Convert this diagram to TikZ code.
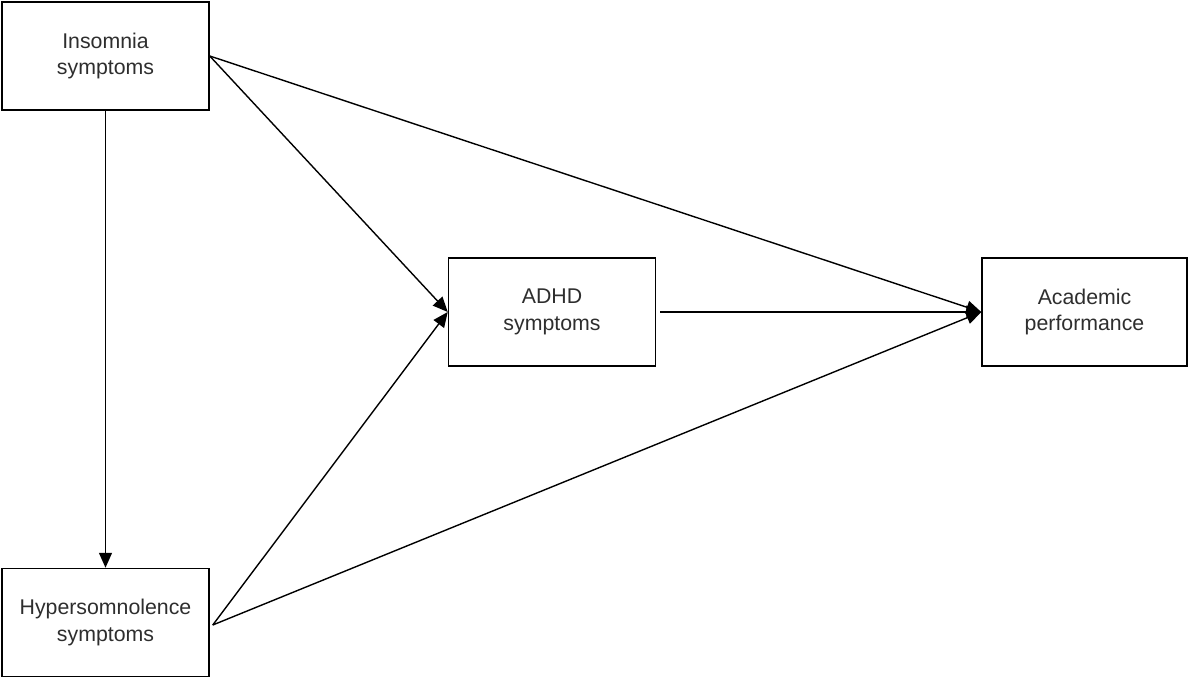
\documentclass[tikz,border=0pt]{standalone}
\usepackage{fontspec}
\setmainfont{Liberation Sans}
\usetikzlibrary{arrows.meta}
\begin{document}
\begin{tikzpicture}[x=1pt,y=-1pt,
  box/.style={draw=black,line width=1.5pt,fill=white,inner sep=0pt,
    minimum width=207pt,minimum height=108pt,align=center,
    font=\fontsize{21.3}{26.5}\selectfont,text=black!82},
  conn/.style={draw=black,line width=1.4pt,
    -{Triangle[length=15pt,width=13pt]}}]
\useasboundingbox (0,0) rectangle (1188,677);
\node[box] (ins) at (105.5,56) {Insomnia\\symptoms};
\node[box] (hyp) at (105.5,622.5) {Hypersomnolence\\symptoms};
\node[box] (adhd) at (552,312) {ADHD\\symptoms};
\node[box,minimum width=205pt] (acad) at (1084.5,312) {Academic\\performance};
\draw[conn] (ins.south) -- (hyp.north);
\draw[conn] (ins.east) -- (adhd.west);
\draw[conn] (ins.east) -- (acad.west);
\draw[conn] ([xshift=3pt,yshift=-2.5pt]hyp.east) -- (adhd.west);
\draw[conn] ([xshift=3pt,yshift=-2.5pt]hyp.east) -- (acad.west);
\draw[conn,shorten <=4pt] (adhd.east) -- (acad.west);
\end{tikzpicture}
\end{document}
